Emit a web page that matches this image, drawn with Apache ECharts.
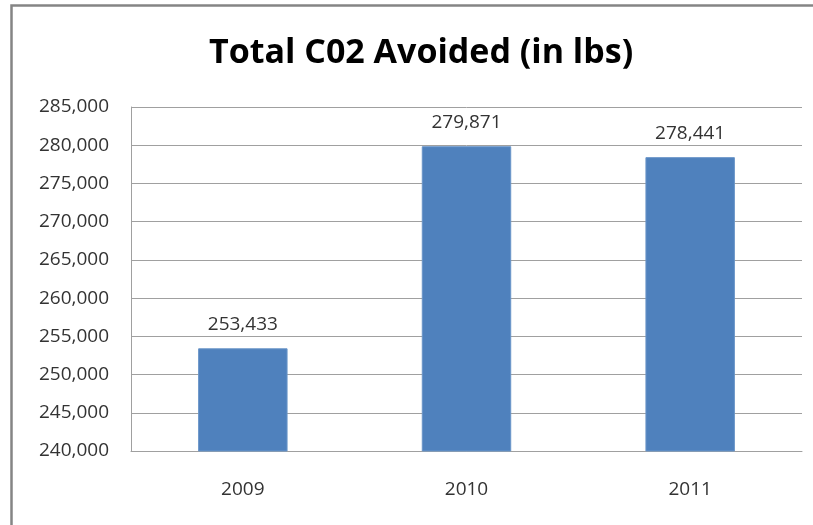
<!DOCTYPE html>
<html>
<head>
<meta charset="utf-8">
<script src="https://cdn.jsdelivr.net/npm/echarts@6/dist/echarts.min.js"></script>
<style>
  html, body { margin: 0; padding: 0; background: #fff; }
  #main { width: 813px; height: 525px; }
</style>
</head>
<body>
<div id="main"></div>
<script>
    var years = ['2009', '2010', '2011'];
    var avoided = [253433, 279871, 278441];
    var yMin = 240000, yMax = 285000, yStep = 5000;

    function fmt(v) {
        return String(v).replace(/\B(?=(\d{3})+(?!\d))/g, ',');
    }

    var myChart = echarts.init(document.getElementById('main'));
    var option = {
        backgroundColor: '#fff',
        animation: false,
        title: {
            text: 'Total C02 Avoided (in lbs)',
            left: 204,
            top: 31,
            textStyle: {
                fontFamily: 'Open Sans',
                fontWeight: 'bold',
                fontSize: 34,
                color: '#000'
            }
        },
        graphic: [
            { // chart frame, only top and left edges show
                type: 'rect',
                shape: { x: 11.5, y: 5.5, width: 900, height: 600 },
                style: { fill: 'none', stroke: '#858585', lineWidth: 2.5 },
                silent: true
            }
        ],
        grid: {
            left: 131,
            right: 11,
            top: 107,
            bottom: 74,
            containLabel: false
        },
        xAxis: {
            type: 'category',
            data: years,
            axisLine: { show: true, lineStyle: { color: '#a0a0a0', width: 1 } },
            axisTick: { show: false },
            axisLabel: {
                margin: 29,
                fontFamily: 'Open Sans',
                fontSize: 19,
                color: '#333'
            }
        },
        yAxis: {
            type: 'value',
            min: yMin,
            max: yMax,
            interval: yStep,
            axisLine: { show: true, lineStyle: { color: '#a0a0a0', width: 1 } },
            axisTick: { show: false },
            splitLine: { show: true, lineStyle: { color: '#a0a0a0', width: 1 } },
            axisLabel: {
                margin: 22,
                fontFamily: 'Open Sans',
                fontSize: 19,
                color: '#333',
                formatter: fmt
            }
        },
        series: [
            {
                type: 'bar',
                data: avoided,
                barWidth: '40%',
                itemStyle: {
                    color: '#4f81bd',
                    borderColor: '#6a95c8',
                    borderWidth: 1
                },
                label: {
                    show: true,
                    position: 'top',
                    distance: 14,
                    fontFamily: 'Open Sans',
                    fontSize: 19,
                    color: '#333',
                    formatter: function (p) { return fmt(p.value); }
                }
            }
        ]
    };
    myChart.setOption(option);
</script>
</body>
</html>
